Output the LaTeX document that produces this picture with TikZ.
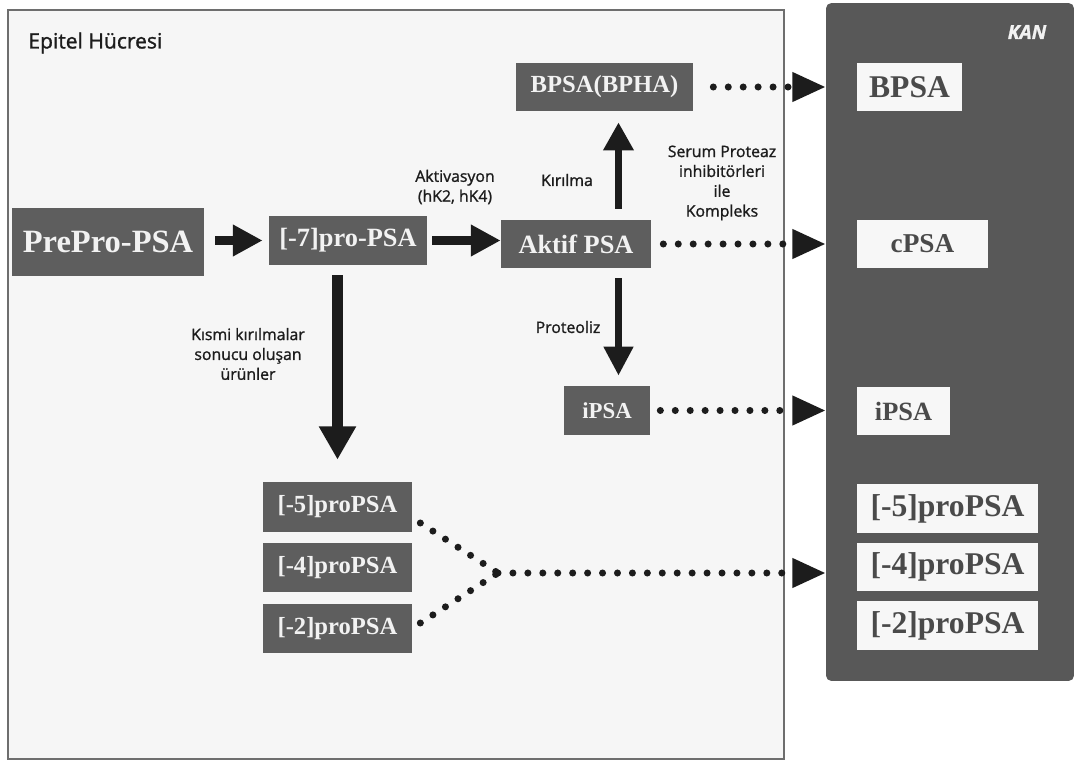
\documentclass[tikz,border=0pt]{standalone}
\usepackage{fontspec}
\setmainfont{Liberation Serif}
\newfontfamily\labelfont[FakeBold=1.2]{Open Sans}
\usetikzlibrary{arrows.meta}

\definecolor{boxgray}{HTML}{5E5E5E}
\definecolor{kangray}{HTML}{585858}
\definecolor{cellbg}{HTML}{F6F6F6}
\definecolor{framegray}{HTML}{6E6E6E}
\definecolor{arrowblack}{HTML}{1C1C1C}
\definecolor{lighttext}{HTML}{F2F2F2}
\definecolor{darktext}{HTML}{4A4A4A}

\begin{document}
\begin{tikzpicture}[x=0.02cm,y=-0.02cm,
        darkbox/.style={fill=boxgray,text=lighttext,inner sep=0pt},
        whitebox/.style={fill=white!97!black,text=darktext,inner sep=0pt},
        steplabel/.style={text=arrowblack,font=\labelfont\fontsize{9}{11.3}\selectfont,align=center,inner sep=0pt},
        bigarrow/.style={draw=arrowblack,line width=5pt,-{Triangle[length=17pt,width=17pt]}},
        dotarrow/.style={draw=arrowblack,line width=4pt,line cap=round,dash pattern=on 0pt off 8.5pt},
        dottip/.style={-{Triangle[length=19pt,width=16pt]}}]
    \useasboundingbox (0,0) rectangle (1075,760);
    % Panels
    \node[fill=cellbg,draw=framegray,line width=0.8pt,minimum width=15.52cm,minimum height=14.98cm,inner sep=0pt] (cell) at (396,384.5) {};
    \node[fill=kangray,rounded corners=3pt,minimum width=4.96cm,minimum height=13.56cm,inner sep=0pt] (kan) at (950,342) {};
    \node[anchor=west,text=arrowblack,font=\labelfont\fontsize{12}{14}\selectfont,inner sep=0pt] (celltitle) at (28,43) {Epitel Hücresi};
    \node[text=lighttext,font=\labelfont\bfseries\itshape\fontsize{11}{13}\selectfont,inner sep=0pt] (kantitle) at (1027,32) {KAN};
    % Epitel boxes
    \node[darkbox,minimum width=3.84cm,minimum height=1.36cm,font=\bfseries\fontsize{18.5}{20}\selectfont] (prepro) at (108,242) {PrePro-PSA};
    \node[darkbox,minimum width=3.16cm,minimum height=0.98cm,font=\bfseries\fontsize{15}{17}\selectfont] (pro7) at (348,240.5) {[-7]pro-PSA};
    \node[darkbox,minimum width=3.0cm,minimum height=0.96cm,font=\bfseries\fontsize{15}{17}\selectfont] (aktif) at (576,244) {Aktif PSA};
    \node[darkbox,minimum width=3.54cm,minimum height=0.96cm,font=\bfseries\fontsize{14}{16}\selectfont] (bpha) at (604.5,87) {BPSA(BPHA)};
    \node[darkbox,minimum width=1.72cm,minimum height=0.98cm,font=\bfseries\fontsize{13}{15}\selectfont] (ipsa) at (607,410.5) {iPSA};
    \node[darkbox,minimum width=2.98cm,minimum height=1.0cm,font=\bfseries\fontsize{14}{16}\selectfont] (p5) at (337.5,507) {[-5]proPSA};
    \node[darkbox,minimum width=2.98cm,minimum height=0.98cm,font=\bfseries\fontsize{14}{16}\selectfont] (p4) at (337.5,567.5) {[-4]proPSA};
    \node[darkbox,minimum width=2.98cm,minimum height=0.98cm,font=\bfseries\fontsize{14}{16}\selectfont] (p2) at (337.5,628.5) {[-2]proPSA};
    % KAN boxes
    \node[whitebox,minimum width=2.1cm,minimum height=0.96cm,font=\bfseries\fontsize{18}{20}\selectfont] (bpsa) at (909.5,87) {BPSA};
    \node[whitebox,minimum width=2.62cm,minimum height=0.96cm,font=\bfseries\fontsize{15.5}{18}\selectfont] (cpsa) at (922.5,244) {cPSA};
    \node[whitebox,minimum width=1.86cm,minimum height=0.96cm,font=\bfseries\fontsize{15}{17}\selectfont] (ipsakan) at (903.5,411) {iPSA};
    \node[whitebox,minimum width=3.62cm,minimum height=0.98cm,font=\bfseries\fontsize{18}{20}\selectfont] (k5) at (947.5,508.5) {[-5]proPSA};
    \node[whitebox,minimum width=3.62cm,minimum height=0.96cm,font=\bfseries\fontsize{18}{20}\selectfont] (k4) at (947.5,567) {[-4]proPSA};
    \node[whitebox,minimum width=3.62cm,minimum height=0.98cm,font=\bfseries\fontsize{18}{20}\selectfont] (k2) at (947.5,625.5) {[-2]proPSA};
    % Step labels
    \node[steplabel] (aktivlabel) at (455,187) {Aktivasyon\\(hK2, hK4)};
    \node[steplabel] (kirilma) at (567,180) {Kırılma};
    \node[steplabel] (serum) at (722,183) {Serum Proteaz\\inhibitörleri\\ile\\Kompleks};
    \node[steplabel] (kismi) at (248,354) {Kısmi kırılmalar\\sonucu oluşan\\ürünler};
    \node[steplabel] (proteoliz) at (568,327) {Proteoliz};
    % Solid arrows
    \coordinate (axis) at (618.5,0);
    \draw[bigarrow,shorten <=0.22cm,shorten >=0.12cm] (prepro.east |- pro7) -- (pro7.west);
    \draw[bigarrow,shorten <=0.1cm] (pro7.east) -- (pro7.east -| aktif.west);
    \draw[bigarrow,line width=4pt,-{Triangle[length=16pt,width=16.5pt]},shorten <=0.22cm,shorten >=0.22cm] (aktif.north -| axis) -- (bpha.south -| axis);
    \draw[bigarrow,line width=4pt,-{Triangle[length=16.5pt,width=16pt]},shorten <=0.2cm,shorten >=0.2cm] (aktif.south -| axis) -- (ipsa.north -| axis);
    \draw[bigarrow,line width=5.7pt,-{Triangle[length=19pt,width=20pt]},shorten <=0.2cm,shorten >=0.44cm] (pro7.south -| p5) -- (p5.north);
    % Dotted arrows into KAN
    \draw[dotarrow,dottip,shorten <=0.4cm] (bpha.east) -- (bpha.east -| kan.west);
    \draw[dotarrow,dottip,shorten <=0.24cm] (aktif.east) -- (aktif.east -| kan.west);
    \draw[dotarrow,dottip,shorten <=0.2cm] (ipsa.east) -- (ipsa.east -| kan.west);
    \coordinate (fan) at (498,573);
    \draw[dotarrow] ([shift={(8,16)}]p5.east) -- (fan);
    \draw[dotarrow] ([shift={(8,-5.5)}]p2.east) -- (fan);
    \draw[dotarrow,dottip] (fan) -- (fan -| kan.west);
\end{tikzpicture}
\end{document}
